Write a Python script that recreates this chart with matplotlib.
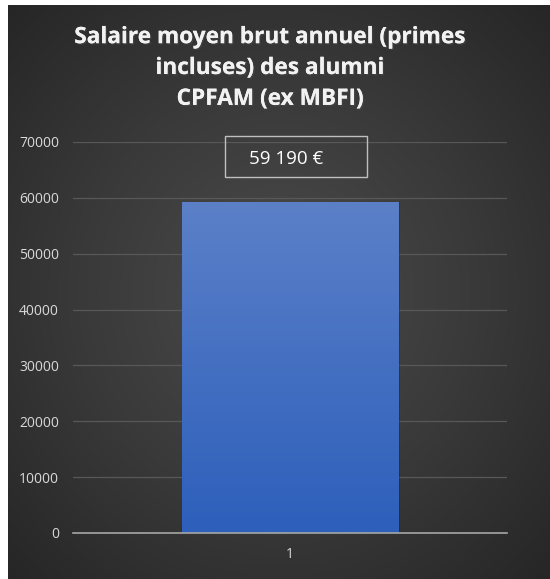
import numpy as np
import matplotlib.pyplot as plt
import matplotlib.patheffects as pe
import matplotlib.transforms as mtransforms
from matplotlib.patches import Rectangle
from matplotlib.colors import LinearSegmentedColormap

# data
categories = ['1']
salaires = [59190]
value_labels = ['59 190 €']
y_ticks = [0, 10000, 20000, 30000, 40000, 50000, 60000, 70000]

W, H = 550, 579
fig = plt.figure(figsize=(W / 100, H / 100), dpi=100)
fig.patch.set_facecolor('white')

# dark radial background (chart area)
bg = fig.add_axes([8 / W, 0 / H, 1 - 8 / W, 1 - 5 / H], zorder=0)
yy, xx = np.mgrid[0:1:300j, 0:1:300j]
r = np.sqrt((xx - 0.5) ** 2 + (yy - 0.5) ** 2) / 0.71
bg_cmap = LinearSegmentedColormap.from_list('bg', ['#4b4b4b', '#3a3a3a', '#262626'])
bg.imshow(r, cmap=bg_cmap, aspect='auto', extent=[0, 1, 0, 1], vmin=0, vmax=1)
bg.axis('off')

# plot area
left, right = 73 / W, 507 / W
bottom, top = (H - 533) / H, (H - 142) / H
ax = fig.add_axes([left, bottom, right - left, top - bottom], zorder=1)
ax.patch.set_alpha(0)

x = np.arange(len(categories))
bars = ax.bar(x, salaires, width=0.5, color='none', zorder=3)
ax.set_xlim(-0.5, 0.5)
ax.set_ylim(0, 70000)

# vertical gradient inside the bar
bar_cmap = LinearSegmentedColormap.from_list('bar', ['#2d5fbb', '#5b80c8'])
for b in bars:
    x0, w, h = b.get_x(), b.get_width(), b.get_height()
    grad = np.linspace(0, 1, 256).reshape(-1, 1)
    ax.imshow(grad, cmap=bar_cmap, origin='lower', aspect='auto',
              extent=[x0, x0 + w, 0, h], zorder=3)
    ax.bar(b.get_x() + w / 2 + 0.004, h, width=w, color='#222222',
           alpha=0.35, zorder=2.5)

ax.set_yticks(y_ticks)
ax.set_xticks(x)
ax.set_xticklabels(categories)
ax.grid(axis='y', color='#585858', linewidth=0.9, zorder=1)
ax.tick_params(axis='both', length=0, colors='#d9d9d9', labelsize=10)
ax.tick_params(axis='y', pad=10)
ax.tick_params(axis='x', pad=10)
for lab in ax.get_xticklabels() + ax.get_yticklabels():
    lab.set_family('Open Sans')
for s in ['top', 'right', 'left']:
    ax.spines[s].set_visible(False)
ax.spines['bottom'].set_color('#a6a6a6')
ax.spines['bottom'].set_linewidth(1.2)
ax.spines['bottom'].set_zorder(4)

# value label in a framed box (box drawn in pixels, anchored at the bar top)
for xi, v, lab in zip(x, salaires, value_labels):
    anchor = mtransforms.ScaledTranslation(xi, v, ax.transData)
    ax.add_patch(Rectangle((-65, 25), 142, 41, fill=False, ec='#bfbfbf',
                           lw=1.0, transform=anchor, clip_on=False, zorder=5))
    ax.annotate(lab, (xi, v), xytext=(-3.5, 43), textcoords='offset pixels',
                ha='center', va='center', color='white', fontsize=13.5,
                family='Open Sans')

title = 'Salaire moyen brut annuel (primes\nincluses) des alumni\nCPFAM (ex MBFI)'
fig.text(0.491, 1 - 68 / H, title, ha='center', va='center', color='#f2f2f2',
         fontsize=16.3, fontweight='bold', family='Open Sans', linespacing=1.38,
         path_effects=[pe.withSimplePatchShadow(offset=(1, -1), alpha=0.6),
                       pe.Normal()])

fig.savefig('out.png', dpi=100, facecolor=fig.get_facecolor())
